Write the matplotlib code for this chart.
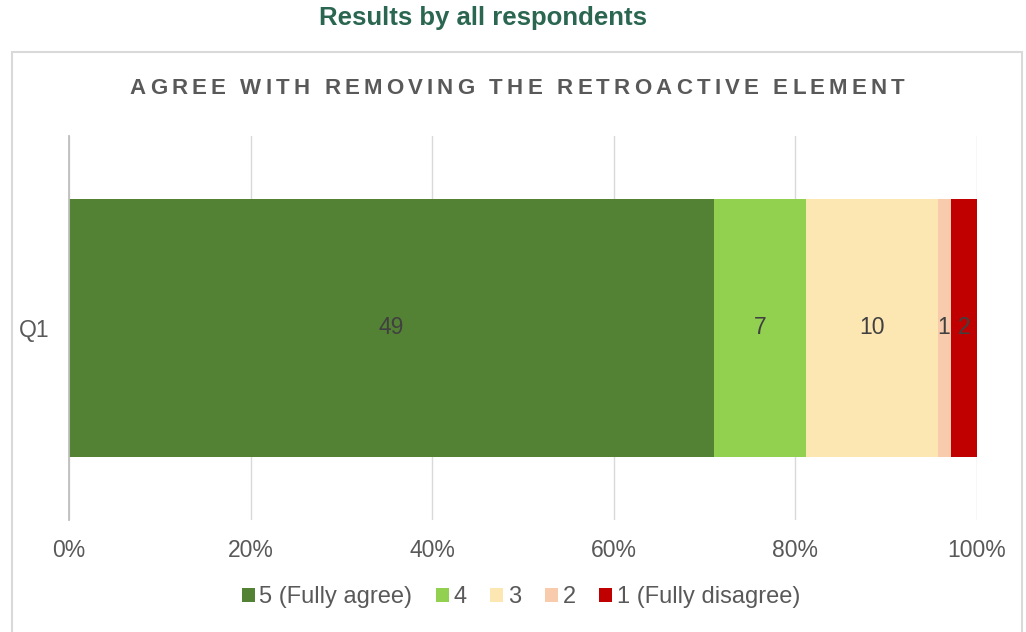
import numpy as np
import matplotlib.pyplot as plt
from matplotlib.patches import Rectangle
from matplotlib.ticker import PercentFormatter

plt.rcParams['font.family'] = ['Liberation Sans', 'DejaVu Sans']

# Responses to Q1
question = ['Q1']
labels = ['5 (Fully agree)', '4', '3', '2', '1 (Fully disagree)']
counts = [49, 7, 10, 1, 2]
colors = ['#548235', '#92D050', '#FCE6B2', '#F8CBAD', '#C00000']

total = sum(counts)
shares = [c / total for c in counts]

W, H = 1026, 632
fig = plt.figure(figsize=(W / 100, H / 100), dpi=100)
ax = fig.add_axes([69 / W, 1 - 520 / H, 908 / W, 384 / H])

# chart frame
fig.patches.append(Rectangle((12 / W, -0.05), 1010 / W, 1 - 52 / H + 0.05,
                             transform=fig.transFigure, fill=False,
                             edgecolor='#D9D9D9', linewidth=1.5, zorder=0))

left = 0.0
for lab, c, s, col in zip(labels, counts, shares, colors):
    ax.barh(question, s, left=left, height=0.672, color=col, label=lab, zorder=2)
    ax.text(left + s / 2, 0, str(c), ha='center', va='center',
            fontsize=16.5, color='#404040', zorder=3)
    left += s

ax.set_xlim(0, 1)
ax.set_ylim(-0.5, 0.5)
ax.xaxis.set_major_locator(plt.MultipleLocator(0.2))
ax.xaxis.set_major_formatter(PercentFormatter(1.0, decimals=0))
ax.grid(axis='x', color='#D9D9D9', linewidth=1, zorder=0)
for sp in ['top', 'right', 'bottom']:
    ax.spines[sp].set_visible(False)
ax.spines['left'].set_color('#BFBFBF')
ax.spines['left'].set_linewidth(1.3)
ax.tick_params(length=0, labelsize=16.5, labelcolor='#595959')
ax.tick_params(axis='x', pad=14)
ax.tick_params(axis='y', pad=14)

fig.text(483 / W, 1 - 18 / H, 'Results by all respondents', ha='center', va='center',
         fontsize=18.5, fontweight='bold', color='#2A6650')


def spaced_text(s, xc, yc, spacing, **kw):
    # draw a string one glyph at a time with extra tracking between letters
    renderer = fig.canvas.get_renderer()
    widths = []
    for ch in s:
        t = fig.text(0, 0, ch.replace(' ', '\u00a0') if ch == ' ' else ch, **kw)
        bb = t.get_window_extent(renderer)
        widths.append(bb.width if ch != ' ' else kw.get('fontsize', 10) * 0.278 * 100 / 72)
        t.remove()
    total_w = sum(widths) + spacing * (len(s) - 1)
    x = xc - total_w / 2
    for ch, w in zip(s, widths):
        if ch != ' ':
            fig.text(x / W, yc, ch, ha='left', va='center', **kw)
        x += w + spacing


spaced_text('AGREE WITH REMOVING THE RETROACTIVE ELEMENT', 517, 1 - 88 / H, 4.2,
            fontsize=16, fontweight='bold', color='#595959')

ax.legend(loc='center', bbox_to_anchor=(521 / W, 1 - 597 / H),
          bbox_transform=fig.transFigure, ncol=5, frameon=False,
          fontsize=17, labelcolor='#595959', handlelength=0.55, handleheight=0.55,
          handletextpad=0.2, columnspacing=1.0)

fig.savefig('out.png', dpi=100)
